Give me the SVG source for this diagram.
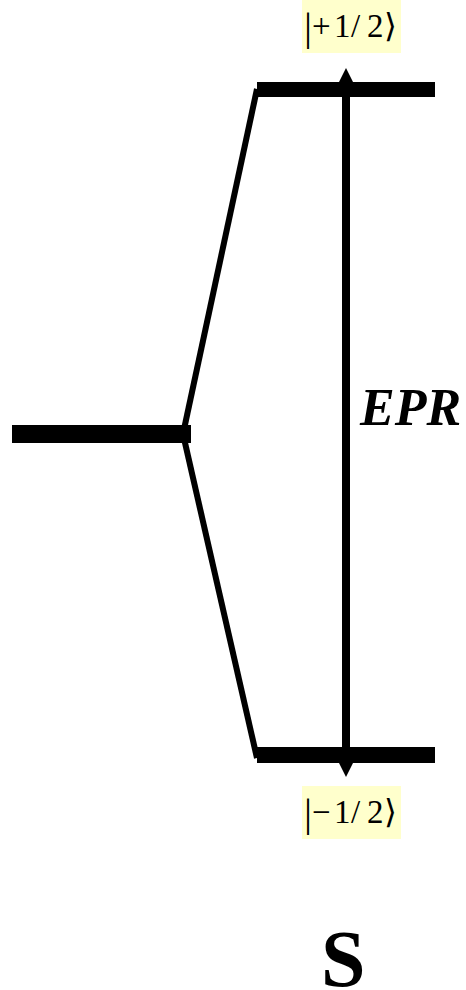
<svg xmlns="http://www.w3.org/2000/svg" width="466" height="990" viewBox="0 0 466 990">
<style>
.lvl{fill:#000}
.diag{stroke:#000;stroke-width:6;fill:none}
.lbl{fill:#FFFFCC}
.ket{font-family:"Times New Roman",Times,"Liberation Serif",Tinos,"DejaVu Serif",serif;font-size:33px;fill:#000}
.bar{font-family:"Times New Roman",Times,"Liberation Serif",serif;font-size:40px;fill:#000}
.big{font-family:"Times New Roman",Times,"Liberation Serif",Tinos,serif;font-weight:bold;fill:#000}
</style>
<rect width="466" height="990" fill="#fff"/>
<g id="connectors">
<line class="diag" x1="183" y1="434" x2="257" y2="89"/>
<line class="diag" x1="183" y1="434" x2="257" y2="758"/>
<line x1="346" y1="84" x2="346" y2="761" stroke="#000" stroke-width="8"/>
<path d="M346,68 L338,84 L354,84 z" fill="#000"/>
<path d="M346,777 L338,761 L354,761 z" fill="#000"/>
</g>
<g id="level-mid"><rect class="lvl" x="12" y="425" width="179" height="18"/></g>
<g id="level-top"><rect class="lvl" x="257" y="82" width="178" height="15"/></g>
<g id="level-bottom"><rect class="lvl" x="257" y="747" width="178" height="16"/></g>
<g id="label-top">
<rect class="lbl" x="302" y="0" width="99" height="53"/>
<text class="bar" x="304" y="40">|</text>
<text class="ket" y="37"><tspan x="312">+</tspan><tspan x="334">1</tspan><tspan x="351">/</tspan><tspan x="367">2</tspan><tspan x="384">⟩</tspan></text>
</g>
<g id="label-bottom">
<rect class="lbl" x="302" y="786" width="99" height="53"/>
<text class="bar" x="304" y="826">|</text>
<text class="ket" y="823"><tspan x="312">−</tspan><tspan x="334">1</tspan><tspan x="351">/</tspan><tspan x="367">2</tspan><tspan x="384">⟩</tspan></text>
</g>
<g id="epr"><text class="big" x="360" y="425" font-style="italic" font-size="52">EPR</text></g>
<g id="s"><text class="big" x="321" y="986" font-size="80">S</text></g>
</svg>
